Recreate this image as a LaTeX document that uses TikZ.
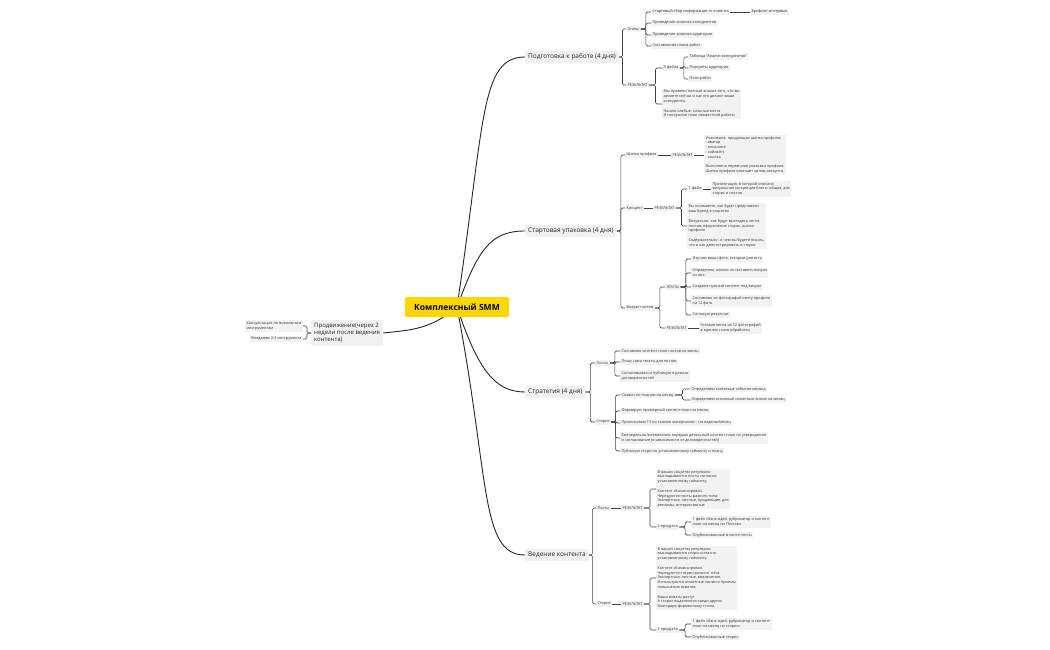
\documentclass[tikz,border=0pt]{standalone}
\usepackage{fontspec}
\setmainfont{Open Sans}
\usetikzlibrary{calc,backgrounds}
\begin{document}
\begin{tikzpicture}[x=1pt,y=-1pt,
  leaf/.style={anchor=west,fill=black!5,inner sep=1.4pt,align=left,font=\fontsize{3.8}{4.8}\selectfont,text=black!80},
  mainn/.style={fill=black!6,inner sep=3pt,font=\fontsize{6.5}{8}\selectfont,text=black!85,rounded corners=1pt},
  conn/.style={draw=black!75,line width=0.6pt,rounded corners=1.5pt},
  curve/.style={draw=black!85,line width=0.9pt}]
\useasboundingbox (0,0) rectangle (1050,650);
\newcommand\conn[2]{\draw[conn] (#1.east) -- ($(#1.east)!.5!(#1.east-|#2.west)$) |- (#2.west);}

\node[fill=yellow!75!orange,inner sep=5pt,font=\fontsize{8.5}{10}\selectfont\bfseries,rounded corners=1.5pt,minimum width=104pt,minimum height=20pt] (root) at (457,307) {Комплексный SMM};

\node[mainn,anchor=west] (prep) at (525,57) {Подготовка к работе (4 дня)};
\node[mainn,anchor=west] (pack) at (525,231) {Стартовая упаковка (4 дня)};
\node[mainn,anchor=west] (strat) at (525,392) {Стратегия (4 дня)};
\node[mainn,anchor=west] (cont) at (525,555) {Ведение контента};
\node[mainn,anchor=west,align=left,font=\fontsize{6}{7.3}\selectfont] (prom) at (311,333) {Продвижение(через 2\\недели после ведения\\контента)};

\begin{scope}[on background layer]
\draw[curve] (root.center) .. controls (485,120) and (480,57) .. (prep.west);
\draw[curve] (root.center) .. controls (478,250) and (490,231) .. (pack.west);
\draw[curve] (root.center) .. controls (478,370) and (495,392) .. (strat.west);
\draw[curve] (root.center) .. controls (490,480) and (480,555) .. (cont.west);
\draw[curve] (root.center) .. controls (430,330) and (410,330) .. (prom.east);
\end{scope}

% left
\node[leaf,anchor=east] (l1) at (303,326) {Консультации по возможным\\инструментам};
\node[leaf,anchor=east] (l2) at (303,339) {Внедряем 2-3 инструмента};
\conn{l1}{prom}\conn{l2}{prom}

% group 1
\node[leaf] (e1) at (626,29) {Этапы};
\node[leaf] (e11) at (651,12) {Стартовый сбор информации от клиента};
\node[leaf] (e111) at (750,12) {Брифинг-интервью};
\node[leaf] (e12) at (651,23) {Проведение анализа конкурентов};
\node[leaf] (e13) at (651,35) {Проведение анализа аудитории};
\node[leaf] (e14) at (651,46) {Составление плана работ};
\conn{prep}{e1}\conn{e1}{e11}\conn{e1}{e12}\conn{e1}{e13}\conn{e1}{e14}
\draw[conn] (e11.east) -- (e111.west);
\node[leaf] (r1) at (626,85) {РЕЗУЛЬТАТ};
\node[leaf] (f3) at (662,68) {3 файла};
\node[leaf] (f31) at (688,57) {Таблица "Анализ конкурентов"};
\node[leaf] (f32) at (688,68) {Портреты аудитории};
\node[leaf] (f33) at (688,79) {План-работ};
\node[leaf] (r1t) at (662,104) {Мы провели полный анализ того, что вы\\делаете сейчас и как это делают ваши\\конкуренты\\[4.8pt]Нашли слабые, сильные места\\И построили план совместной работы};
\conn{prep}{r1}\conn{r1}{f3}\conn{r1}{r1t}\conn{f3}{f31}\conn{f3}{f32}\conn{f3}{f33}

% group 2
\node[leaf] (sh) at (625,155) {Шапка профиля};
\node[leaf] (shr) at (671,155) {РЕЗУЛЬТАТ};
\node[leaf] (sht) at (704,155) {Упакована: продающая шапка профиля:\\- аватар\\- описание\\- хайлайтс\\- ссылка\\[4.8pt]Выполнена первичная упаковка профиля.\\Шапка профиля отвечает целям аккаунта.};
\conn{pack}{sh}\draw[conn] (sh.east)--(shr.west);\draw[conn] (shr.east)--(sht.west);
\node[leaf] (ko) at (625,208) {Концепт};
\node[leaf] (kor) at (653,208) {РЕЗУЛЬТАТ};
\node[leaf] (f1) at (687,189) {1 файл};
\node[leaf] (f1t) at (711,189) {Презентация, в которой описана\\визуальная концепция блога: общая, для\\сторис и постов};
\node[leaf] (kot) at (687,226) {Вы понимаете, как будет представлен\\ваш бренд в соцсетях\\[4.8pt]Визуально: как будут выглядеть лента\\постов, оформление сторис, шапка\\профиля\\[4.8pt]Содержательно: о чем вы будете писать,\\что и как демонстрировать в сторис};
\conn{pack}{ko}\draw[conn] (ko.east)--(kor.west);\conn{kor}{f1}\conn{kor}{kot}\draw[conn] (f1.east)--(f1t.west);
\node[leaf] (vi) at (625,308) {Визуал постов};
\node[leaf] (vie) at (665,287) {ЭТАПЫ};
\node[leaf] (v1) at (691,259) {Изучаю ваши фото, которые уже есть};
\node[leaf] (v2) at (691,273) {Определяю, можно ли составить визуал\\из них};
\node[leaf] (v3) at (691,287) {Создаем нужный контент под визуал};
\node[leaf] (v4) at (691,301) {Составляю из фотографий ленту профиля\\на 12 фото};
\node[leaf] (v5) at (691,315) {Согласую результат};
\node[leaf] (vir) at (665,328) {РЕЗУЛЬТАТ};
\node[leaf] (virt) at (699,328) {Готовая лента из 12 фотографий\\в едином стиле обработки};
\conn{pack}{vi}\conn{vi}{vie}\conn{vi}{vir}
\conn{vie}{v1}\conn{vie}{v2}\conn{vie}{v3}\conn{vie}{v4}\conn{vie}{v5}
\draw[conn] (vir.east)--(virt.west);

% group 3
\node[leaf] (sp) at (595,363) {Посты};
\node[leaf] (sp1) at (620,351) {Составляю контент-план постов на месяц};
\node[leaf] (sp2) at (620,362) {Пишу сами тексты для постов};
\node[leaf] (sp3) at (620,376) {Согласовываю и публикую в рамках\\договорённостей};
\conn{strat}{sp}\conn{sp}{sp1}\conn{sp}{sp2}\conn{sp}{sp3}
\node[leaf] (ss) at (595,422) {Сторис};
\node[leaf] (ss1) at (620,395) {Созвон по планам на месяц};
\node[leaf] (ss11) at (690,389) {Определяем ключевые события месяца};
\node[leaf] (ss12) at (690,400) {Определяем основные сюжетные линии на месяц};
\node[leaf] (ss2) at (620,411) {Формирую примерный контент-план на месяц};
\node[leaf] (ss3) at (620,423) {Прописываю ТЗ по съемке материалов – на неделю/месяц};
\node[leaf] (ss4) at (620,438) {Еженедельно/ежемесячно передаю детальный контент-план на утверждение\\и согласование (в зависимости от договоренностей)};
\node[leaf] (ss5) at (620,451) {Публикую стори по установленному таймингу и плану};
\conn{strat}{ss}\conn{ss}{ss1}\conn{ss}{ss2}\conn{ss}{ss3}\conn{ss}{ss4}\conn{ss}{ss5}
\conn{ss1}{ss11}\conn{ss1}{ss12}

% group 4
\node[leaf] (cp) at (596,508) {Посты};
\node[leaf] (cpr) at (621,508) {РЕЗУЛЬТАТ};
\node[leaf] (cpt) at (656,489) {В ваших соцсетях регулярно\\выкладываются посты согласно\\установленному таймингу.\\[4.8pt]Контент сбалансирован.\\Чередуются посты разного типа:\\Экспертные, личные, продающие, для\\рекламы, интерактивные};
\node[leaf] (cp2) at (656,527) {2 продукта};
\node[leaf] (cp21) at (691,522) {1 файл «Банк идей, рубрикатор и контент\\план на месяц по Постам»};
\node[leaf] (cp22) at (691,535) {Опубликованные в ленте посты};
\conn{cont}{cp}\draw[conn] (cp.east)--(cpr.west);\conn{cpr}{cpt}\conn{cpr}{cp2}\conn{cp2}{cp21}\conn{cp2}{cp22}
\node[leaf] (cs) at (596,604) {Сторис};
\node[leaf] (csr) at (621,604) {РЕЗУЛЬТАТ};
\node[leaf] (cst) at (656,578) {В ваших соцсетях регулярно\\выкладываются стори согласно\\установленному таймингу.\\[4.8pt]Контент сбалансирован.\\Чередуются стории разного типа:\\Экспертные, личные, вовлечение.\\Используются сюжетные линии и приемы\\повышения охватов.\\[4.8pt]Ваши охваты растут\\А сторис выделяются среди других\\благодаря фирменному стилю.};
\node[leaf] (cs2) at (656,630) {2 продукта};
\node[leaf] (cs21) at (691,624) {1 файл «Банк идей, рубрикатор и контент-\\план на месяц по сторис»};
\node[leaf] (cs22) at (691,637) {Опубликованные сторис};
\conn{cont}{cs}\draw[conn] (cs.east)--(csr.west);\conn{csr}{cst}\conn{csr}{cs2}\conn{cs2}{cs21}\conn{cs2}{cs22}
\end{tikzpicture}
\end{document}
